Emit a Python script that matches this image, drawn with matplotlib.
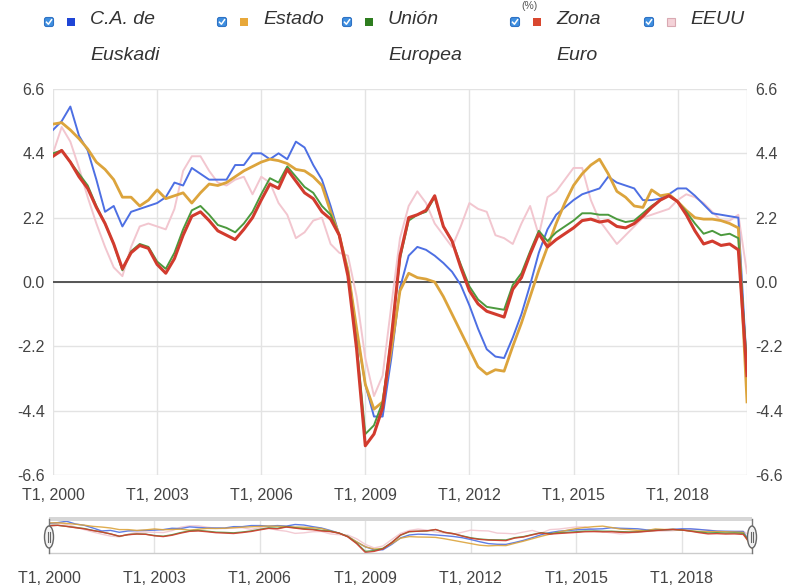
import matplotlib.pyplot as plt
from matplotlib.patches import FancyBboxPatch, Rectangle, Ellipse

plt.rcParams['font.family'] = ['Liberation Sans', 'DejaVu Sans']

# Quarterly GDP growth (%), T1 2000 .. T1 2020
quarters = [f"T{q}, {y}" for y in range(2000, 2021) for q in range(1, 5)][:81]
tick_labels = ["T1, 2000", "T1, 2003", "T1, 2006", "T1, 2009", "T1, 2012", "T1, 2015", "T1, 2018"]
y_ticks = [-6.6, -4.4, -2.2, 0.0, 2.2, 4.4, 6.6]

euskadi = [5.2, 5.5, 6.0, 5.0, 4.5, 3.5, 2.4, 2.6, 1.9, 2.4, 2.5, 2.6, 2.7, 2.9, 3.4, 3.3, 3.9, 3.7, 3.5, 3.5,
           3.5, 4.0, 4.0, 4.4, 4.4, 4.2, 4.4, 4.2, 4.8, 4.6, 4.0, 3.5, 2.6, 1.6, 0.4, -1.7, -3.5, -4.6, -4.6, -2.6,
           -0.2, 0.9, 1.2, 1.1, 0.9, 0.65, 0.35, -0.1, -0.8, -1.6, -2.3, -2.55, -2.6, -1.9, -1.1, -0.1, 1.0, 1.8, 2.3, 2.55,
           2.8, 3.0, 3.1, 3.2, 3.6, 3.4, 3.3, 3.2, 2.8, 2.8, 2.85, 3.0, 3.2, 3.2, 2.95, 2.65, 2.35, 2.3, 2.25, 2.2, -3.0]
estado = [5.4, 5.45, 5.2, 4.9, 4.55, 4.1, 3.85, 3.5, 2.9, 2.9, 2.6, 2.8, 3.15, 2.85, 2.95, 3.05, 2.7, 3.05, 3.35, 3.3,
          3.4, 3.6, 3.8, 3.95, 4.1, 4.2, 4.15, 4.05, 3.85, 3.8, 3.6, 3.3, 2.4, 1.6, 0.4, -1.6, -3.5, -4.35, -4.1, -2.3,
          -0.3, 0.3, 0.15, 0.1, 0.0, -0.5, -1.1, -1.7, -2.3, -2.9, -3.15, -3.0, -3.05, -2.2, -1.4, -0.5, 0.4, 1.2, 2.0, 2.7,
          3.3, 3.7, 4.0, 4.2, 3.7, 3.1, 2.9, 2.6, 2.55, 3.15, 2.95, 3.0, 2.75, 2.45, 2.2, 2.15, 2.15, 2.1, 2.0, 1.85, -4.1]
union_europea = [4.4, 4.5, 4.1, 3.7, 3.3, 2.6, 2.0, 1.3, 0.4, 1.05, 1.3, 1.2, 0.7, 0.45, 1.0, 1.8, 2.45, 2.6, 2.3, 1.95,
                 1.85, 1.7, 2.0, 2.4, 3.0, 3.55, 3.4, 3.95, 3.6, 3.25, 3.05, 2.6, 2.3, 1.6, 0.3, -2.1, -5.2, -4.9, -4.1, -1.9,
                 0.8, 2.1, 2.3, 2.4, 2.9, 1.9, 1.4, 0.6, -0.15, -0.6, -0.85, -0.9, -0.95, -0.1, 0.3, 1.05, 1.75, 1.4, 1.7, 1.9,
                 2.1, 2.35, 2.35, 2.3, 2.3, 2.15, 2.05, 2.1, 2.35, 2.6, 2.8, 2.95, 2.75, 2.4, 2.0, 1.65, 1.75, 1.6, 1.65, 1.5, -2.9]
zona_euro = [4.3, 4.5, 4.1, 3.6, 3.2, 2.55, 2.0, 1.3, 0.45, 1.0, 1.25, 1.15, 0.6, 0.3, 0.8, 1.6, 2.25, 2.4, 2.1, 1.75,
             1.6, 1.45, 1.8, 2.2, 2.8, 3.35, 3.2, 3.85, 3.45, 3.05, 2.85, 2.4, 2.15, 1.6, 0.2, -2.3, -5.6, -5.2, -4.3, -1.9,
             0.9, 2.2, 2.3, 2.45, 2.95, 1.9, 1.4, 0.5, -0.3, -0.75, -1.0, -1.1, -1.2, -0.25, 0.15, 0.95, 1.65, 1.2, 1.45, 1.65,
             1.85, 2.1, 2.15, 2.05, 2.1, 1.9, 1.85, 2.0, 2.25, 2.55, 2.8, 2.95, 2.75, 2.3, 1.75, 1.3, 1.4, 1.25, 1.3, 1.1, -3.2]
eeuu = [4.4, 5.3, 4.8, 3.9, 2.9, 2.0, 1.2, 0.5, 0.2, 1.2, 1.9, 2.0, 1.9, 1.8, 2.5, 3.8, 4.3, 4.3, 3.8, 3.4,
        3.3, 3.5, 3.6, 3.0, 3.6, 3.4, 2.7, 2.3, 1.5, 1.7, 2.1, 2.2, 1.3, 1.0, 0.9, -0.5, -2.6, -3.9, -3.2, -0.8,
        1.5, 2.6, 3.1, 2.7, 2.0, 1.6, 1.2, 1.9, 2.7, 2.5, 2.4, 1.6, 1.5, 1.3, 2.0, 2.6, 1.6, 2.9, 3.1, 3.5,
        3.9, 3.9, 2.8, 2.1, 1.7, 1.3, 1.6, 1.9, 2.2, 2.3, 2.4, 2.5, 2.8, 3.0, 2.9, 2.7, 2.4, 2.1, 2.1, 2.3, 0.3]

# name, values, line colour, legend square colour, line width (drawn in this order)
series = [
    ("EEUU", eeuu, "#f2c6cf", "#f4d2d8", 1.4),
    ("C.A. de\nEuskadi", euskadi, "#4d6fe3", "#1f45d6", 1.4),
    ("Estado", estado, "#dca43c", "#e8a83a", 2.0),
    ("Unión\nEuropea", union_europea, "#4c9a3e", "#2e7d1f", 1.4),
    ("Zona\nEuro", zona_euro, "#d23b2e", "#d9472f", 2.2),
]
legend_order = ["C.A. de\nEuskadi", "Estado", "Unión\nEuropea", "Zona\nEuro", "EEUU"]
legend_x = [90, 263, 388, 556, 690]

x = list(range(len(quarters)))
ticks = list(range(0, 81, 12))

fig = plt.figure(figsize=(7.87, 5.87), dpi=100)

# main chart
ax = fig.add_axes([53 / 787, 1 - 475 / 587, 694 / 787, 386 / 587])
for name, vals, col, _, lw in series:
    ax.plot(x, vals, color=col, lw=lw, solid_joinstyle='round')
ax.axhline(0, color='#555555', lw=1.4, zorder=1)
ax.axvline(80, color='#e3e3e3', lw=1, zorder=0)
ax.set_xlim(0, 80)
ax.set_ylim(-6.6, 6.6)
ax.set_yticks(y_ticks)
ax.set_yticklabels([f"{v:.1f}" for v in y_ticks])
ax.set_xticks(ticks)
ax.set_xticklabels(tick_labels)
ax.tick_params(length=0, labelsize=11.5, labelcolor='#444444', labelright=True)
ax.tick_params(axis='y', pad=6)
ax.tick_params(axis='x', pad=9)
ax.grid(color='#e3e3e3', lw=1)
ax.set_axisbelow(True)
for s in ax.spines.values():
    s.set_visible(False)

# navigator
nav = fig.add_axes([49 / 787, 1 - 553 / 587, 703 / 787, 32 / 587])
for name, vals, col, _, lw in series:
    nav.plot(x, vals, color=col, lw=1.0, alpha=0.9)
nav.set_xlim(0, 80)
nav.set_ylim(-5.8, 6.1)
nav.set_xticks(ticks)
nav.set_xticklabels(tick_labels)
nav.set_yticks([])
nav.tick_params(length=0, labelsize=11.5, labelcolor='#444444', pad=13)
nav.grid(axis='x', color='#e3e3e3', lw=1)
for s in nav.spines.values():
    s.set_visible(False)

# overlay in pixel coordinates for legend and navigator decorations
lay = fig.add_axes([0, 0, 1, 1], facecolor='none')
lay.set_xlim(0, 787)
lay.set_ylim(587, 0)
lay.axis('off')

lay.add_patch(Rectangle((49, 517), 703, 4, fc='#d6d6d6', ec='none'))
lay.plot([49, 752], [553, 553], color='#cccccc', lw=1)
for hx in [49, 752]:
    lay.plot([hx, hx], [519, 553], color='#777777', lw=1)
    lay.add_patch(Ellipse((hx, 537), 9, 22, fc='#f2f2f2', ec='#666666', lw=1, zorder=5))
    lay.plot([hx - 1, hx - 1], [532, 542], color='#666666', lw=0.8, zorder=6)
    lay.plot([hx + 1, hx + 1], [532, 542], color='#666666', lw=0.8, zorder=6)

colors = {name: sq for name, _, _, sq, _ in series}
for name, tx in zip(legend_order, legend_x):
    cx, sx, cy = tx - 41, tx - 19, 22
    lay.add_patch(FancyBboxPatch((cx - 4.5, cy - 4.5), 9, 9, boxstyle='round,pad=0,rounding_size=2',
                                 fc='#3f8fe0', ec='#2f72c4', lw=0.8))
    lay.plot([cx - 2.5, cx - 0.6, cx + 2.6], [cy + 0.2, cy + 2.2, cy - 2.3], color='white', lw=1.1)
    ec = '#d9a9b2' if name == "EEUU" else 'none'
    lay.add_patch(Rectangle((sx - 4, cy - 4), 8, 8, fc=colors[name], ec=ec, lw=0.8))
    for k, line in enumerate(name.split("\n")):
        lay.text(tx, 20 + 35 * k, line, fontsize=14, style='italic', color='#333333', va='center', ha='left')

# remnant of the title at the top edge, kept small and inside the picture
lay.text(530, 6, "(%)", fontsize=7.5, color='#555555', ha='center', va='center')

plt.savefig("out.png", dpi=100)
